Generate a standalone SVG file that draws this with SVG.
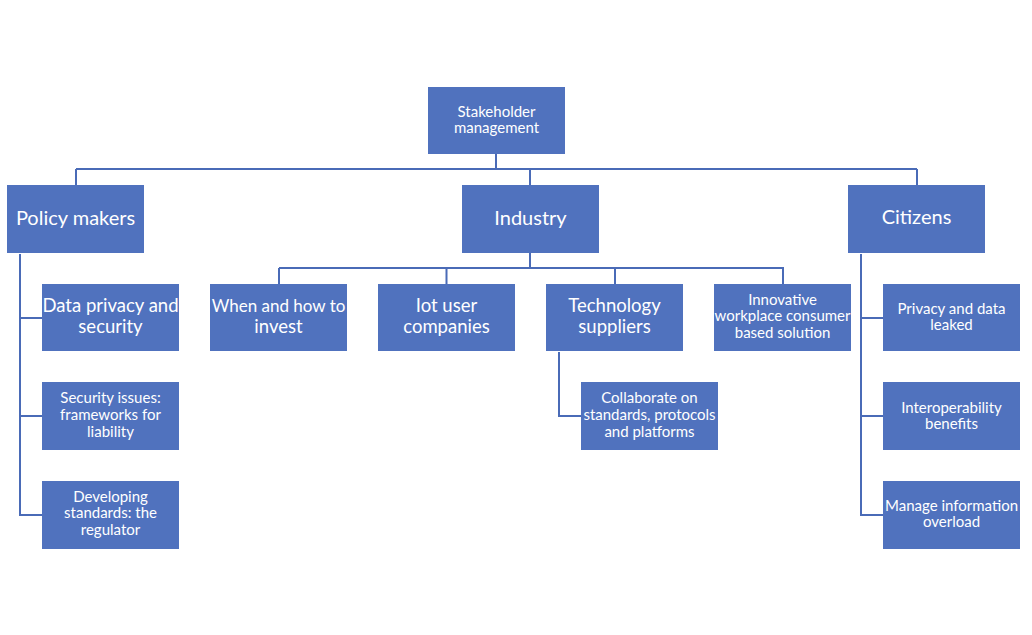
<svg xmlns="http://www.w3.org/2000/svg" width="1032" height="635" viewBox="0 0 1032 635">
<style>
.box{fill:#5072BE}
.t{font-family:Lato,"Open Sans","Liberation Sans",sans-serif;fill:#fff;text-anchor:middle}
.L{font-size:20px}
.M{font-size:18.5px}
.S{font-size:15px}
.c{fill:none;stroke:#4A6BB7;stroke-width:2}
</style>
<rect width="1032" height="635" fill="#fff"/>
<g id="connectors">
<path class="c" d="M496,154V169M76,169H917M76,169V185M530,169V185M917,169V185"/>
<path class="c" d="M20,254V516M19,318H42M19,416H42M19,515H42"/>
<path class="c" d="M530,253V268M279,268H784M279,268V284M446.5,268V284M615,268V284M783,268V284"/>
<path class="c" d="M559,352V416H581"/>
<path class="c" d="M861,254V516M860,318H883M860,416H883M860,515H883"/>
</g>
<g id="root"><rect class="box" x="428" y="87" width="137" height="67"/>
<text class="t S" x="496.5" y="117">Stakeholder</text><text class="t S" x="496.5" y="133">management</text></g>
<g id="policy"><rect class="box" x="7" y="185" width="137" height="68"/>
<text class="t L" x="75.5" y="225">Policy makers</text></g>
<g id="industry"><rect class="box" x="462" y="185" width="137" height="68"/>
<text class="t L" x="530.5" y="225">Industry</text></g>
<g id="citizens"><rect class="box" x="848" y="185" width="137" height="68"/>
<text class="t L" x="916.5" y="224">Citizens</text></g>
<g id="dataprivacy"><rect class="box" x="42" y="284" width="137" height="67"/>
<text class="t M" x="110.5" y="312">Data privacy and</text><text class="t M" x="110.5" y="333">security</text></g>
<g id="security"><rect class="box" x="42" y="382" width="137" height="68"/>
<text class="t S" x="110.5" y="403">Security issues:</text><text class="t S" x="110.5" y="420">frameworks for</text><text class="t S" x="110.5" y="437">liability</text></g>
<g id="developing"><rect class="box" x="42" y="481" width="137" height="68"/>
<text class="t S" x="110.5" y="502">Developing</text><text class="t S" x="110.5" y="518">standards: the</text><text class="t S" x="110.5" y="535">regulator</text></g>
<g id="invest"><rect class="box" x="210" y="284" width="137" height="67"/>
<text class="t M" x="278.5" y="312" style="font-size:17px">When and how to</text><text class="t M" x="278.5" y="333">invest</text></g>
<g id="iot"><rect class="box" x="378" y="284" width="137" height="67"/>
<text class="t M" x="446.5" y="312">Iot user</text><text class="t M" x="446.5" y="333">companies</text></g>
<g id="tech"><rect class="box" x="546" y="284" width="137" height="67"/>
<text class="t M" x="614.5" y="312">Technology</text><text class="t M" x="614.5" y="333">suppliers</text></g>
<g id="innovative"><rect class="box" x="714" y="284" width="137" height="67"/>
<text class="t S" x="782.5" y="305">Innovative</text><text class="t S" x="782.5" y="321">workplace consumer</text><text class="t S" x="782.5" y="338">based solution</text></g>
<g id="collaborate"><rect class="box" x="581" y="382" width="137" height="68"/>
<text class="t S" x="649.5" y="403">Collaborate on</text><text class="t S" x="649.5" y="420">standards, protocols</text><text class="t S" x="649.5" y="437">and platforms</text></g>
<g id="privacyleak"><rect class="box" x="883" y="284" width="137" height="67"/>
<text class="t S" x="951.5" y="314">Privacy and data</text><text class="t S" x="951.5" y="330">leaked</text></g>
<g id="interop"><rect class="box" x="883" y="382" width="137" height="68"/>
<text class="t S" x="951.5" y="413">Interoperability</text><text class="t S" x="951.5" y="429">benefits</text></g>
<g id="manage"><rect class="box" x="883" y="481" width="137" height="68"/>
<text class="t S" x="951.5" y="511">Manage information</text><text class="t S" x="951.5" y="527">overload</text></g>
</svg>
